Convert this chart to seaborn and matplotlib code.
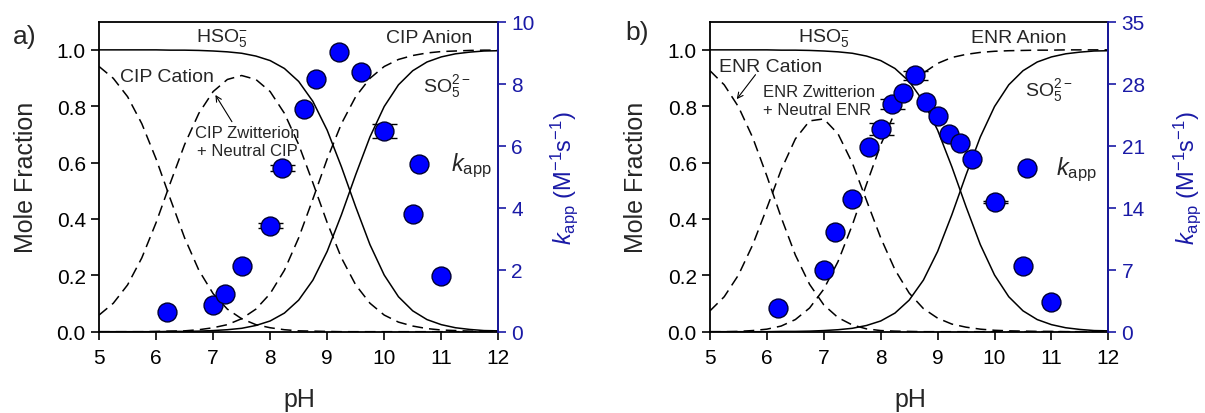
import numpy as np
import pandas as pd
import matplotlib
matplotlib.use("Agg")
import matplotlib.pyplot as plt
import seaborn as sns

# ---------------- data ----------------
ph_grid = [5.0, 5.25, 5.5, 5.75, 6.0, 6.25, 6.5, 6.75, 7.0, 7.25, 7.5, 7.75, 8.0, 8.25,
           8.5, 8.75, 9.0, 9.25, 9.5, 9.75, 10.0, 10.25, 10.5, 10.75, 11.0, 11.25, 11.5,
           11.75, 12.0]

hso5 = [1.000, 1.000, 1.000, 1.000, 1.000, 0.999, 0.999, 0.998, 0.996, 0.993, 0.988, 0.978,
        0.962, 0.934, 0.888, 0.817, 0.715, 0.585, 0.443, 0.309, 0.201, 0.124, 0.074, 0.043,
        0.025, 0.014, 0.008, 0.004, 0.003]
so5 = [0.000, 0.000, 0.000, 0.000, 0.000, 0.001, 0.001, 0.002, 0.004, 0.007, 0.012, 0.022,
       0.038, 0.066, 0.112, 0.183, 0.285, 0.415, 0.557, 0.691, 0.799, 0.876, 0.926, 0.957,
       0.975, 0.986, 0.992, 0.996, 0.997]

cip_cation = [0.941, 0.899, 0.834, 0.738, 0.613, 0.471, 0.333, 0.218, 0.135, 0.080, 0.046,
              0.025, 0.014, 0.007, 0.003, 0.002, 0.001, 0.000, 0.000, 0.000, 0.000, 0.000,
              0.000, 0.000, 0.000, 0.000, 0.000, 0.000, 0.000]
cip_zwitter = [0.059, 0.101, 0.166, 0.262, 0.387, 0.528, 0.664, 0.775, 0.852, 0.895, 0.909,
               0.895, 0.852, 0.775, 0.664, 0.528, 0.387, 0.262, 0.166, 0.101, 0.059, 0.034,
               0.020, 0.011, 0.006, 0.004, 0.002, 0.001, 0.001]
cip_anion = [0.000, 0.000, 0.000, 0.000, 0.001, 0.002, 0.003, 0.007, 0.014, 0.025, 0.046,
             0.080, 0.135, 0.218, 0.333, 0.471, 0.613, 0.738, 0.834, 0.899, 0.941, 0.966,
             0.980, 0.989, 0.994, 0.996, 0.998, 0.999, 0.999]

enr_cation = [0.926, 0.876, 0.798, 0.689, 0.552, 0.406, 0.272, 0.168, 0.095, 0.050, 0.024,
              0.010, 0.004, 0.002, 0.001, 0.000, 0.000, 0.000, 0.000, 0.000, 0.000, 0.000,
              0.000, 0.000, 0.000, 0.000, 0.000, 0.000, 0.000]
enr_zwitter = [0.074, 0.124, 0.201, 0.308, 0.439, 0.574, 0.684, 0.748, 0.755, 0.702, 0.599,
               0.466, 0.333, 0.220, 0.137, 0.082, 0.048, 0.027, 0.016, 0.009, 0.005, 0.003,
               0.002, 0.001, 0.001, 0.000, 0.000, 0.000, 0.000]
enr_anion = [0.000, 0.000, 0.001, 0.004, 0.009, 0.020, 0.043, 0.084, 0.151, 0.249, 0.378,
             0.523, 0.663, 0.779, 0.863, 0.918, 0.952, 0.973, 0.984, 0.991, 0.995, 0.997,
             0.998, 0.999, 0.999, 1.000, 1.000, 1.000, 1.000]

cip_ph = [6.2, 7.0, 7.2, 7.5, 8.0, 8.2, 8.6, 8.8, 9.2, 9.6, 10.0, 10.5, 11.0]
cip_kapp = [0.63, 0.86, 1.21, 2.11, 3.42, 5.27, 7.17, 8.15, 9.03, 8.37, 6.48, 3.80, 1.79]
cip_err = [None, None, None, None, 0.08, 0.10, None, None, None, None, 0.22, None, None]

enr_ph = [6.2, 7.0, 7.2, 7.5, 7.8, 8.0, 8.2, 8.4, 8.6, 8.8, 9.0, 9.2, 9.4, 9.6, 10.0, 10.5, 11.0]
enr_kapp = [2.64, 6.97, 11.29, 15.0, 20.9, 22.9, 25.7, 27.0, 28.95, 25.9, 24.4, 22.3, 21.3,
            19.5, 14.6, 7.45, 3.32]
enr_err = [None, None, None, None, None, 0.65, 0.58, None, 0.5, None, None, None, None,
           None, 0.1, None, None]

x_ticks = [5, 6, 7, 8, 9, 10, 11, 12]
mf_ticks = [0.0, 0.2, 0.4, 0.6, 0.8, 1.0]
cip_k_ticks = [0, 2, 4, 6, 8, 10]
enr_k_ticks = [0, 7, 14, 21, 28, 35]

# ---------------- style ----------------
sns.set_style("ticks")
plt.rcParams["font.family"] = ["Liberation Sans", "DejaVu Sans"]
plt.rcParams["mathtext.fontset"] = "custom"
plt.rcParams["mathtext.rm"] = "Liberation Sans"
plt.rcParams["mathtext.it"] = "Liberation Sans:italic"
plt.rcParams["mathtext.default"] = "regular"

BLUE_TXT = "#1a1aa6"
BLUE_MK = "#0000ff"

fig = plt.figure(figsize=(12.05, 4.14), dpi=100)


def draw_panel(rect, cation, zwitter, anion, kph, kval, kerr, kmax, kticks,
               labels, letter, letter_xy, legend_anchor, legend_pad, ylab1_x, ylab2_x):
    ax = fig.add_axes(rect)
    df = pd.DataFrame({"pH": ph_grid, "HSO5": hso5, "SO5": so5,
                       "cation": cation, "zwitter": zwitter, "anion": anion})
    for col in ["HSO5", "SO5"]:
        sns.lineplot(data=df, x="pH", y=col, ax=ax, color="black", lw=1.1,
                     sort=False, estimator=None)
    for col in ["cation", "zwitter", "anion"]:
        sns.lineplot(data=df, x="pH", y=col, ax=ax, color="black", lw=1.1,
                     sort=False, estimator=None)
        ax.lines[-1].set_dashes((7, 4))
    ax.set_xlim(5, 12)
    ax.set_ylim(0, 1.1)
    ax.set_xticks(x_ticks)
    ax.set_yticks(mf_ticks)
    ax.set_yticklabels([f"{v:.1f}" for v in mf_ticks])
    ax.tick_params(axis="both", labelsize=15, direction="out", length=6, width=1.2,
                   colors="black")
    ax.tick_params(axis="x", pad=6)
    for s in ["left", "bottom", "top", "right"]:
        ax.spines[s].set_visible(True)
        ax.spines[s].set_linewidth(1.3)
        ax.spines[s].set_color("black")
    ax.set_xlabel("pH", fontsize=18)
    ax.set_ylabel("Mole Fraction", fontsize=18)
    ax.xaxis.set_label_coords(0.503, -0.18)
    ax.yaxis.set_label_coords(ylab1_x, 0.5)

    # text labels
    for txt, x, y, ha, fs in labels["texts"]:
        ax.text(x, y, txt, ha=ha, va="center", fontsize=fs)
    for (hx, hy), (tx, ty) in labels["arrows"]:
        ax.annotate("", xy=(hx, hy), xytext=(tx, ty),
                    arrowprops=dict(arrowstyle="->", lw=0.8, color="black",
                                    shrinkA=0, shrinkB=0))

    ax2 = ax.twinx()
    ax2.set_ylim(0, kmax)
    ax2.set_yticks(kticks)
    ax2.tick_params(axis="y", labelsize=15, direction="out", length=6, width=1.2,
                    colors=BLUE_TXT, labelcolor=BLUE_TXT)
    ax2.spines["right"].set_color(BLUE_TXT)
    ax2.spines["right"].set_linewidth(1.3)
    for s in ["left", "top", "bottom"]:
        ax2.spines[s].set_visible(False)
    ax2.set_ylabel(r"$\mathit{k}_{\mathrm{app}}$ (M$^{-1}$s$^{-1}$)", fontsize=17,
                   color=BLUE_TXT)
    ax2.yaxis.set_label_coords(ylab2_x, 0.5)

    err = np.array([np.nan if e is None else e for e in kerr], dtype=float)
    ax2.errorbar(kph, kval, yerr=err, fmt="none", ecolor="black", elinewidth=1.0,
                 capsize=9, capthick=1.0, zorder=3)
    sns.scatterplot(x=kph, y=kval, ax=ax2, s=185, color=BLUE_MK, edgecolor="#000033",
                    linewidth=1.0, zorder=4, label=r"$\mathit{k}_{\mathrm{app}}$",
                    legend=True)
    ax2.legend(loc="center left", bbox_to_anchor=legend_anchor, frameon=False,
               fontsize=17, handlelength=1.0, handletextpad=legend_pad,
               borderpad=0, borderaxespad=0, markerscale=1.0)
    fig.text(letter_xy[0], letter_xy[1], letter, fontsize=19, ha="left", va="center")
    return ax, ax2


cip_labels = {
    "texts": [
        (r"HSO$_5^{-}$", 7.15, 1.045, "center", 14),
        ("CIP Anion", 10.78, 1.045, "center", 14),
        (r"SO$_5^{2-}$", 10.68, 0.875, "left", 14),
        ("CIP Cation", 5.37, 0.905, "left", 14),
        ("CIP Zwitterion\n+ Neutral CIP", 7.6, 0.675, "center", 12),
    ],
    "arrows": [((7.04, 0.84), (7.33, 0.745))],
}
enr_labels = {
    "texts": [
        (r"HSO$_5^{-}$", 7.0, 1.045, "center", 14),
        ("ENR Anion", 10.43, 1.045, "center", 14),
        (r"SO$_5^{2-}$", 10.54, 0.86, "left", 14),
        ("ENR Cation", 5.16, 0.94, "left", 14),
        ("ENR Zwitterion\n+ Neutral ENR", 5.93, 0.82, "left", 12),
    ],
    "arrows": [((5.47, 0.825), (5.8, 0.912))],
}

draw_panel([0.0822, 0.1964, 0.3313, 0.7488], cip_cation, cip_zwitter, cip_anion,
           cip_ph, cip_kapp, cip_err, 10, cip_k_ticks, cip_labels, "a)",
           (0.011, 0.91), (0.773, 0.538), 0.85, -0.153, 1.125)
draw_panel([0.5892, 0.1964, 0.3306, 0.7488], enr_cation, enr_zwitter, enr_anion,
           enr_ph, enr_kapp, enr_err, 35, enr_k_ticks, enr_labels, "b)",
           (0.519, 0.92), (0.767, 0.525), 0.7, -0.156, 1.158)

fig.savefig("out.png", dpi=100)
